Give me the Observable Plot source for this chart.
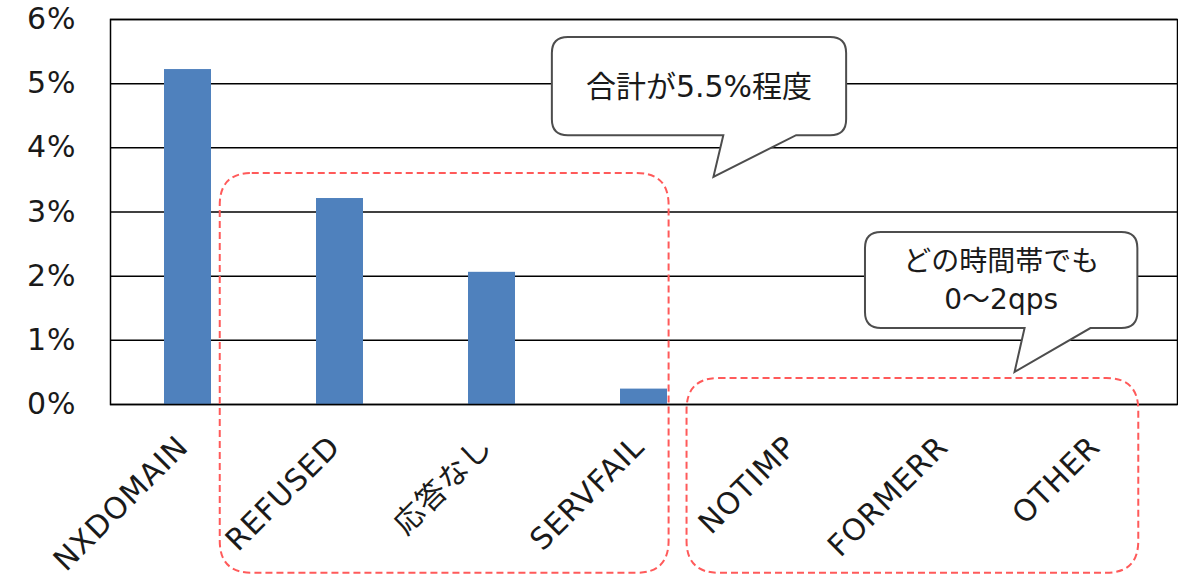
<!DOCTYPE html>
<html>
<head>
<meta charset="utf-8">
<script src="https://cdn.jsdelivr.net/npm/d3@7"></script>
<script src="https://cdn.jsdelivr.net/npm/@observablehq/plot@0.6"></script>
<style>
  html, body { margin: 0; padding: 0; background: #fff; }
  #chart svg { display: block; }
</style>
</head>
<body>
<div id="chart"></div>
<script>
// ---- data ----
const categories = ["NXDOMAIN", "REFUSED", "応答なし", "SERVFAIL", "NOTIMP", "FORMERR", "OTHER"];
const values = [0.0522, 0.0321, 0.0206, 0.0024, 0, 0, 0];
const yTicks = [0, 0.01, 0.02, 0.03, 0.04, 0.05, 0.06];
const yTickLabels = ["0%", "1%", "2%", "3%", "4%", "5%", "6%"];

// annotations (x in category steps from the left edge, y in data units)
const calloutTexts = [["合計が5.5%程度"], ["どの時間帯でも", "0～2qps"]];
const calloutFontSizes = [30, 28];
const calloutBoxes = [
  {x0: 2.907, x1: 4.843, yTop: 0.0572, yBottom: 0.0419, base: [4.035, 4.514], tip: [3.97, 0.0354]},
  {x0: 4.967, x1: 6.759, yTop: 0.0268, yBottom: 0.01184, base: [6.017, 6.450], tip: [5.951, 0.0050]}
];
const groupBoxes = [
  {x0: 0.722, x1: 3.675, yTop: 0.0360, yBottom: -0.0263},
  {x0: 3.793, x1: 6.765, yTop: 0.00405, yBottom: -0.0263}
];

const data = categories.map((c, i) => ({cat: c, value: values[i]}));
const FONT = `"DejaVu Sans", "Noto Sans CJK JP", sans-serif`;

const chart = Plot.plot({
  width: 1178,
  height: 580,
  marginLeft: 110,
  marginRight: 1,
  marginTop: 19,
  marginBottom: 176,
  style: {fontFamily: FONT, color: "#1a1a1a", background: "#fff"},
  x: {domain: categories, paddingInner: 0.694, paddingOuter: 0.347, axis: null},
  y: {domain: [0, 0.06], axis: null},
  marks: [
    Plot.ruleY(yTicks, {stroke: "#000", strokeWidth: 1.5}),
    Plot.barY(data, {x: "cat", y: "value", fill: "#4F81BD"}),
    Plot.frame({stroke: "#000", strokeWidth: 1.5}),
    Plot.axisY(yTicks, {tickSize: 0, tickPadding: 34, fontSize: 30, label: null,
      tickFormat: (d, i) => yTickLabels[i], fill: "#1a1a1a"}),
    Plot.text(categories, {
      x: d => d, frameAnchor: "bottom", dy: 44, dx: 2, rotate: -45,
      textAnchor: "end", fontSize: 30, fill: "#1a1a1a"
    })
  ]
});

document.getElementById("chart").appendChild(chart);
d3.select(chart).selectAll("g[aria-label='text'] text").attr("letter-spacing", 1);
d3.select(chart).selectAll("g[aria-label='y-axis tick label'] text").attr("letter-spacing", 1);

// ---- annotations drawn through the plot's scales ----
const xs = chart.scale("x");
const ys = chart.scale("y");
const step = xs.step ?? (xs.range[1] - xs.range[0]) / categories.length;
const px = u => xs.range[0] + u * step;
const py = v => ys.apply(v);

const svg = d3.select(chart);
const g = svg.append("g");

function roundRectPath(x0, y0, x1, y1, r) {
  return `M${x0 + r},${y0}H${x1 - r}Q${x1},${y0} ${x1},${y0 + r}V${y1 - r}Q${x1},${y1} ${x1 - r},${y1}H${x0 + r}Q${x0},${y1} ${x0},${y1 - r}V${y0 + r}Q${x0},${y0} ${x0 + r},${y0}Z`;
}

groupBoxes.forEach(b => {
  g.append("path")
    .attr("d", roundRectPath(px(b.x0), py(b.yTop), px(b.x1), py(b.yBottom), 32))
    .attr("fill", "none")
    .attr("stroke", "#FF5A5A")
    .attr("stroke-width", 2)
    .attr("stroke-dasharray", "7,4");
});

calloutBoxes.forEach((b, i) => {
  const x0 = px(b.x0), x1 = px(b.x1), y0 = py(b.yTop), y1 = py(b.yBottom), r = 16;
  const bl = px(b.base[0]), br = px(b.base[1]), tx = px(b.tip[0]), ty = py(b.tip[1]);
  const d = `M${x0 + r},${y0}H${x1 - r}Q${x1},${y0} ${x1},${y0 + r}V${y1 - r}Q${x1},${y1} ${x1 - r},${y1}` +
    `H${br}L${tx},${ty}L${bl},${y1}` +
    `H${x0 + r}Q${x0},${y1} ${x0},${y1 - r}V${y0 + r}Q${x0},${y0} ${x0 + r},${y0}Z`;
  g.append("path")
    .attr("d", d)
    .attr("fill", "#fff")
    .attr("stroke", "#4d4d4d")
    .attr("stroke-width", 2)
    .attr("stroke-linejoin", "miter");
  const lines = calloutTexts[i];
  const cx = (x0 + x1) / 2, cy = (y0 + y1) / 2, lh = 38;
  lines.forEach((t, j) => {
    g.append("text")
      .attr("x", cx)
      .attr("y", cy + (j - (lines.length - 1) / 2) * lh)
      .attr("text-anchor", "middle")
      .attr("dominant-baseline", "central")
      .attr("font-family", FONT)
      .attr("font-size", calloutFontSizes[i])
      .attr("fill", "#1a1a1a")
      .text(t);
  });
});
</script>
</body>
</html>
